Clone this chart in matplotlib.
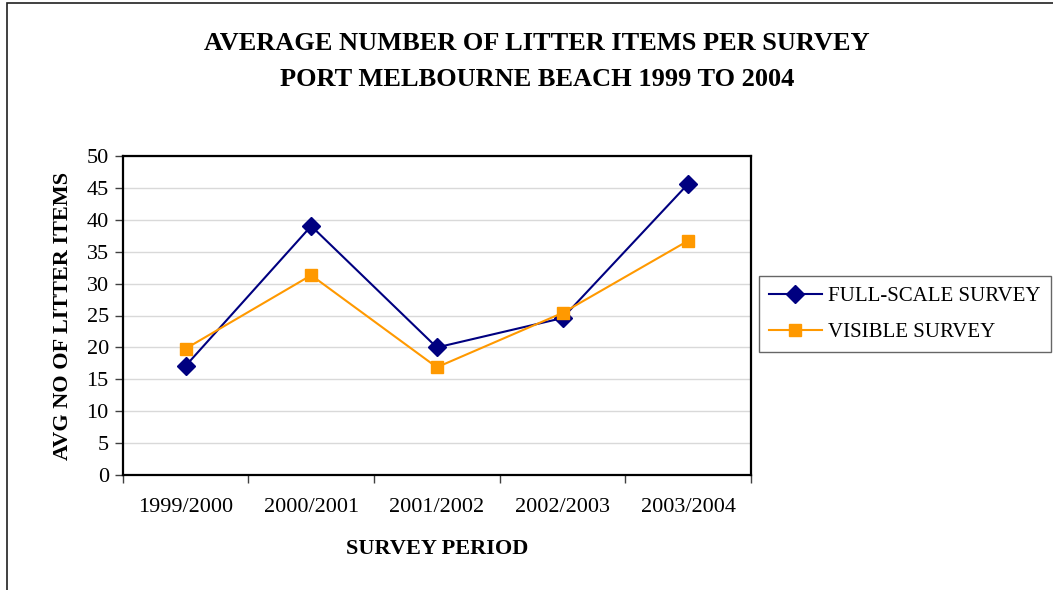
import numpy as np
import matplotlib
matplotlib.use("Agg")
import matplotlib.pyplot as plt
from matplotlib.patches import Rectangle

# ── data ─────────────────────────────────────────────────────────────────────
periods    = ["1999/2000", "2000/2001", "2001/2002", "2002/2003", "2003/2004"]
full_scale = [17.1, 39.0, 20.0, 24.6, 45.6]
visible    = [19.8, 31.3, 16.9, 25.4, 36.7]

C_FULL = "#000080"
C_VIS  = "#FF9900"
W, H = 1053, 590

plt.rcParams["font.family"] = ["Liberation Serif", "DejaVu Serif"]

fig = plt.figure(figsize=(W / 100, H / 100), dpi=100)

# outer chart-area frame (runs off the right and bottom edge like the original)
fig.patches.append(Rectangle((7 / W, -0.2), 1.2, 1.2 - 3 / H,
                             transform=fig.transFigure, fill=False,
                             edgecolor="#202020", lw=1.2))

ax = fig.add_axes([122.7 / W, 1 - 475.3 / H, (751 - 122.7) / W, (475.3 - 155.7) / H])

x = np.arange(len(periods))
ax.plot(x, full_scale, color=C_FULL, lw=1.5, marker="D", ms=9,
        mec=C_FULL, mfc=C_FULL, label="FULL-SCALE SURVEY", zorder=3)
ax.plot(x, visible, color=C_VIS, lw=1.5, marker="s", ms=9,
        mec=C_VIS, mfc=C_VIS, label="VISIBLE SURVEY", zorder=3)

ax.set_xlim(-0.5, len(periods) - 0.5)
ax.set_ylim(0, 50)
ax.set_yticks(np.arange(0, 51, 5))
ax.yaxis.grid(True, color="#d9d9d9", lw=1.0)
ax.set_axisbelow(True)

# category boundaries as major ticks, labels at category centres
ax.set_xticks(np.arange(-0.5, len(periods), 1.0))
ax.set_xticklabels([])
ax.set_xticks(x, minor=True)
ax.set_xticklabels(periods, minor=True)
ax.tick_params(axis="x", which="major", direction="out", length=6, width=1, color="#404040")
ax.tick_params(axis="x", which="minor", length=0, pad=16, labelsize=16)
ax.tick_params(axis="y", direction="out", length=6, width=1, color="#404040",
               labelsize=16, pad=4)

for sp in ax.spines.values():
    sp.set_linewidth(1.6)
    sp.set_color("black")

ax.set_ylabel("AVG NO OF LITTER ITEMS", fontsize=16, fontweight="bold", labelpad=10)
ax.set_xlabel("SURVEY PERIOD", fontsize=16, fontweight="bold", labelpad=16)

fig.text(537 / W, 1 - 43 / H, "AVERAGE NUMBER OF LITTER ITEMS PER SURVEY",
         ha="center", va="center", fontsize=19, fontweight="bold")
fig.text(537 / W, 1 - 79 / H, "PORT MELBOURNE BEACH 1999 TO 2004",
         ha="center", va="center", fontsize=19, fontweight="bold")

leg = fig.legend(loc="upper left", bbox_to_anchor=(759 / W, 1 - 276 / H),
                 fontsize=15, frameon=True, fancybox=False, edgecolor="#404040",
                 handlelength=2.5, handletextpad=0.3, borderpad=0.5,
                 labelspacing=0.78, borderaxespad=0)
leg.get_frame().set_linewidth(1.0)

fig.savefig("out.png", dpi=100)
plt.close()
